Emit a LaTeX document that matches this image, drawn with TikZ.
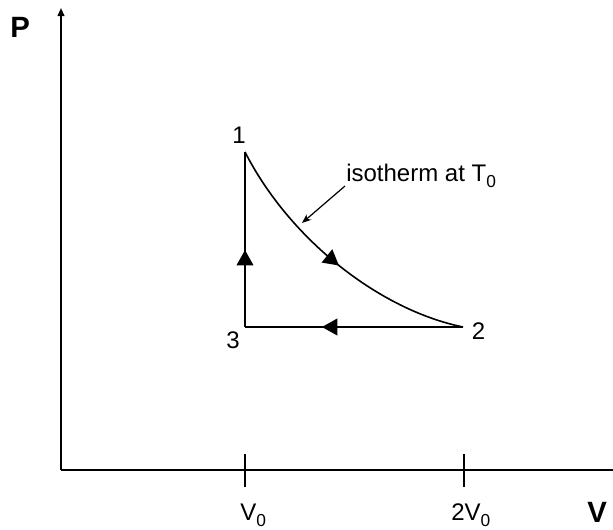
\documentclass[tikz,border=0pt]{standalone}
\usepackage{fontspec}
\setmainfont{Liberation Sans}
\usetikzlibrary{arrows.meta,decorations.markings}
\newcommand{\lowidx}[1]{\raisebox{-5pt}{\fontsize{13}{13}\selectfont #1}}
\begin{document}
\begin{tikzpicture}[x=0.75pt,y=-0.75pt,
  lbl/.style={inner sep=0pt,font=\fontsize{18}{18}\selectfont},
  axlbl/.style={inner sep=0pt,font=\fontsize{22}{22}\selectfont\bfseries},
  axis/.style={line width=1.3pt},
  cyc/.style={line width=1.2pt},
  tick/.style={line width=1.2pt},
  midarrow/.style={postaction={decorate},decoration={markings,
    mark=at position #1 with {\arrow{Triangle[length=11.5pt,width=12.5pt]}}}}
]
\clip (0,0) rectangle (613,529);
% coordinates
\coordinate (O) at (61,470);
\coordinate (ytop) at (61,8);
\coordinate (xend) at (621,470);
\coordinate (p1) at (245,152);
\coordinate (p2) at (463,327);
\coordinate (p3) at (245,327);
\coordinate (t1a) at (245,454);
\coordinate (t1b) at (245,487);
\coordinate (t2a) at (464,454);
\coordinate (t2b) at (464,487);
\coordinate (ann0) at (345,186);
\coordinate (ann1) at (302,223);
% axes
\draw[axis,-{Triangle[length=6pt,width=5pt]}] (O) -- (ytop);
\draw[axis,-{Triangle[length=6pt,width=5pt]}] (O) -- (xend);
\draw[tick] (t1a) -- (t1b);
\draw[tick] (t2a) -- (t2b);
% cycle
\draw[cyc,midarrow=0.44] (p3) -- (p1);
\draw[cyc,midarrow=0.647] (p2) -- (p3);
\draw[cyc,midarrow=0.515] (p1) .. controls (290,240) and (380,310) .. (p2);
% annotation
\draw[line width=0.9pt,-{Stealth[length=7pt,width=5.5pt]}] (ann0) -- (ann1);
% labels
\node[axlbl,anchor=base west] (Plbl) at (10,37) {P};
\node[axlbl,anchor=base west] (Vlbl) at (587,522) {V};
\node[lbl,anchor=base west] (v0) at (240,520) {V\lowidx{0}};
\node[lbl,anchor=base west] (v2) at (451,520) {2V\lowidx{0}};
\node[lbl,anchor=base] (n1) at (239,143) {1};
\node[lbl,anchor=base] (n2) at (478.5,339) {2};
\node[lbl,anchor=base] (n3) at (233,348) {3};
\node[lbl,anchor=base west] (iso) at (346,181) {isotherm at T\lowidx{0}};
\end{tikzpicture}
\end{document}
